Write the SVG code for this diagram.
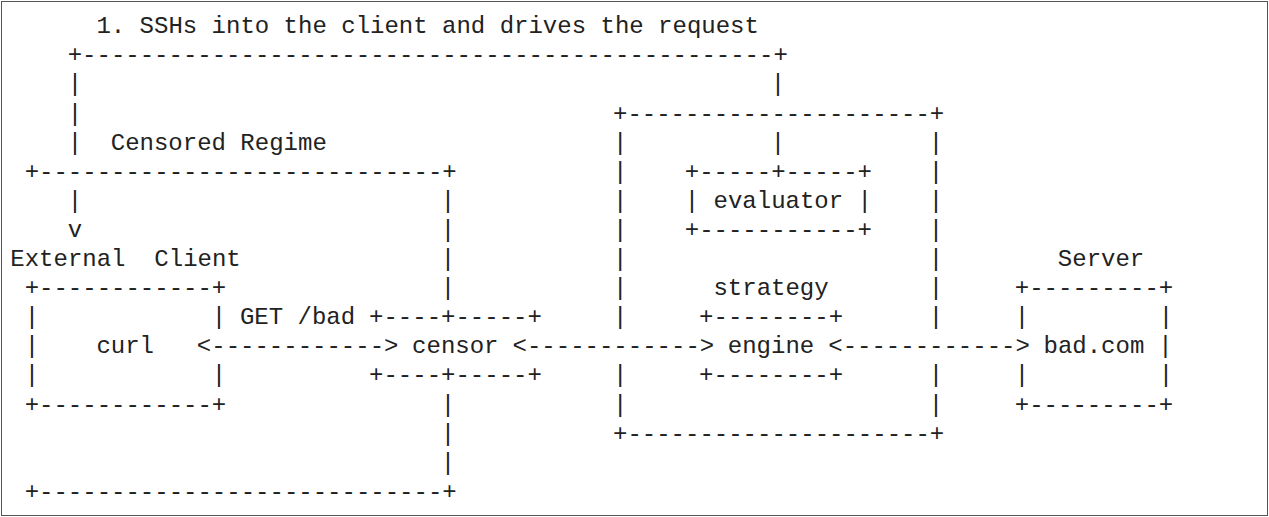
<svg xmlns="http://www.w3.org/2000/svg" width="1269" height="517" viewBox="0 0 1269 517" xml:space="preserve">
<style>
.t{font-family:"Liberation Mono","Courier New",monospace;font-size:24px;fill:#222;white-space:pre}
</style>
<rect x="0" y="0" width="1269" height="517" fill="#fff"/>
<rect x="1.5" y="1.5" width="1266" height="514" fill="none" stroke="#555" stroke-width="1"/>
<g id="connectors">
<text class="t" x="96.4" y="33.2">1. SSHs into the client and drives the request</text>
<text class="t" x="67.7" y="62.3">+------------------------------------------------+</text>
<text class="t" x="67.7" y="91.4">|</text>
<text class="t" x="770.85" y="91.4">|</text>
<text class="t" x="67.7" y="120.5">|</text>
<text class="t" x="67.7" y="149.6">|</text>
<text class="t" x="770.85" y="149.6">|</text>
<text class="t" x="67.7" y="207.8">|</text>
<text class="t" x="67.7" y="236.9">v</text>
<text class="t" x="239.9" y="324.2">GET /bad</text>
<text class="t" x="196.85" y="353.3">&lt;------------&gt;</text>
<text class="t" x="512.55" y="353.3">&lt;------------&gt;</text>
<text class="t" x="828.25" y="353.3">&lt;------------&gt;</text>
</g>
<g id="censored-regime">
<text class="t" x="110.75" y="149.6">Censored Regime</text>
<text class="t" x="24.65" y="178.7">+----------------------------+</text>
<text class="t" x="440.8" y="207.8">|</text>
<text class="t" x="440.8" y="236.9">|</text>
<text class="t" x="440.8" y="266">|</text>
<text class="t" x="440.8" y="295.1">|</text>
<text class="t" x="440.8" y="411.5">|</text>
<text class="t" x="440.8" y="440.6">|</text>
<text class="t" x="440.8" y="469.7">|</text>
<text class="t" x="24.65" y="498.8">+----------------------------+</text>
</g>
<g id="external-client">
<text class="t" x="10.3" y="266">External  Client</text>
<text class="t" x="24.65" y="295.1">+------------+</text>
<text class="t" x="24.65" y="324.2">|            |</text>
<text class="t" x="24.65" y="353.3">|</text>
<text class="t" x="96.4" y="353.3">curl</text>
<text class="t" x="24.65" y="382.4">|            |</text>
<text class="t" x="24.65" y="411.5">+------------+</text>
</g>
<g id="censor">
<text class="t" x="369.05" y="324.2">+----+-----+</text>
<text class="t" x="412.1" y="353.3">censor</text>
<text class="t" x="369.05" y="382.4">+----+-----+</text>
</g>
<g id="strategy-host">
<text class="t" x="613" y="120.5">+---------------------+</text>
<text class="t" x="613" y="149.6">|</text>
<text class="t" x="613" y="178.7">|</text>
<text class="t" x="613" y="207.8">|</text>
<text class="t" x="613" y="236.9">|</text>
<text class="t" x="613" y="266">|</text>
<text class="t" x="613" y="295.1">|</text>
<text class="t" x="613" y="324.2">|</text>
<text class="t" x="613" y="382.4">|</text>
<text class="t" x="613" y="411.5">|</text>
<text class="t" x="928.7" y="149.6">|</text>
<text class="t" x="928.7" y="178.7">|</text>
<text class="t" x="928.7" y="207.8">|</text>
<text class="t" x="928.7" y="236.9">|</text>
<text class="t" x="928.7" y="266">|</text>
<text class="t" x="928.7" y="295.1">|</text>
<text class="t" x="928.7" y="324.2">|</text>
<text class="t" x="928.7" y="382.4">|</text>
<text class="t" x="928.7" y="411.5">|</text>
<text class="t" x="613" y="440.6">+---------------------+</text>
</g>
<g id="evaluator">
<text class="t" x="684.75" y="178.7">+-----+-----+</text>
<text class="t" x="684.75" y="207.8">| evaluator |</text>
<text class="t" x="684.75" y="236.9">+-----------+</text>
</g>
<g id="engine">
<text class="t" x="713.45" y="295.1">strategy</text>
<text class="t" x="699.1" y="324.2">+--------+</text>
<text class="t" x="727.8" y="353.3">engine</text>
<text class="t" x="699.1" y="382.4">+--------+</text>
</g>
<g id="server">
<text class="t" x="1057.85" y="266">Server</text>
<text class="t" x="1014.8" y="295.1">+---------+</text>
<text class="t" x="1014.8" y="324.2">|         |</text>
<text class="t" x="1043.5" y="353.3">bad.com</text>
<text class="t" x="1158.3" y="353.3">|</text>
<text class="t" x="1014.8" y="382.4">|         |</text>
<text class="t" x="1014.8" y="411.5">+---------+</text>
</g>
</svg>
